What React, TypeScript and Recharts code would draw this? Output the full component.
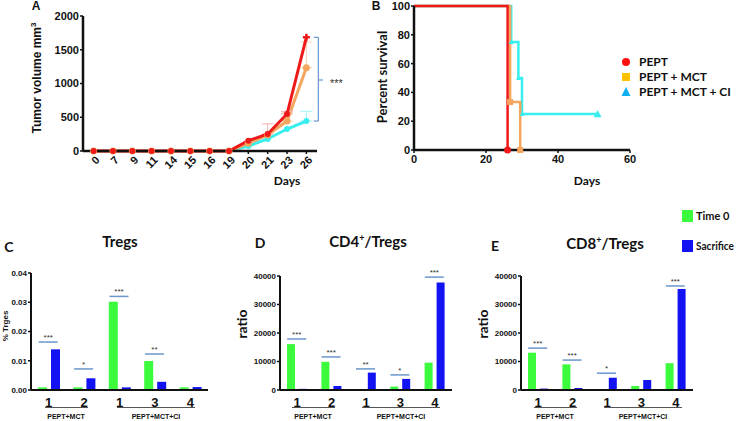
import React from 'react';
import {
  LineChart, Line, XAxis, YAxis, ErrorBar, ReferenceLine, ReferenceDot,
  ComposedChart, Bar,
} from 'recharts';

// ---------- Panel A data ----------
const days = ['0', '7', '9', '11', '14', '15', '16', '19', '20', '21', '23', '26'];
const volPept = [0, 0, 0, 0, 0, 0, 0, 0, 153, 252, 548, 1684];
const volMct = [0, 0, 0, 0, 0, 0, 0, 0, 115, 237, 444, 1234];
const volCi = [0, 0, 0, 0, 0, 0, 0, 0, 74, 178, 326, 444];
const errPept = [null, null, null, null, null, null, null, null, null, 150, 40, null];
const errMct = [null, null, null, null, null, null, null, null, null, null, 120, 380];
const errCi = [null, null, null, null, null, null, null, null, null, null, null, 145];

// ---------- Panel B data ----------
const survNames = ['PEPT', 'PEPT + MCT', 'PEPT + MCT + CI'];
const survPept = [{ d: 0, s: 100 }, { d: 26, s: 0 }];
const survMct = [{ d: 0, s: 100 }, { d: 26.7, s: 33.3 }, { d: 29.5, s: 0 }];
const survCi = [{ d: 0, s: 100 }, { d: 27, s: 75 }, { d: 29, s: 50 }, { d: 30, s: 25 }, { d: 51, s: 25 }];

// ---------- Panels C, D, E data ----------
const barCats = ['1', '2', '1', '3', '4'];
const groupNames = ['PEPT+MCT', 'PEPT+MCT+CI'];
const legendNames = ['Time 0', 'Sacrifice'];

const tregsT0 = [0.0009, 0.0009, 0.0302, 0.0099, 0.0009];
const tregsSac = [0.0139, 0.004, 0.0009, 0.0028, 0.001];
const tregsSig = [0.0164, 0.0072, 0.032, 0.0123, null];
const tregsStars = ['***', '*', '***', '**', null];

const cd4T0 = [16100, 9900, 300, 1200, 9600];
const cd4Sac = [400, 1400, 6100, 3900, 37700];
const cd4Sig = [17900, 11600, 7400, 5300, 39600];
const cd4Stars = ['***', '***', '**', '*', '***'];

const cd8T0 = [13100, 9000, 200, 1400, 9400];
const cd8Sac = [500, 700, 4300, 3500, 35400];
const cd8Sig = [14700, 10500, 5900, null, 36500];
const cd8Stars = ['***', '***', '*', null, '***'];

const RED = '#ee1a1a';
const ORANGE = '#f4a55e';
const CYAN = '#38eeee';
const GREEN = '#3cfa3c';
const BLUE = '#1212f2';
const SIG = '#6b96cc';
const ARIAL = '"Liberation Sans", Arial, sans-serif';
const LATO = 'Lato, "Open Sans", sans-serif';

const dataA = days.map((d, i) => ({
  i,
  pept: volPept[i],
  mct: volMct[i],
  ci: volCi[i],
  ePept: errPept[i] == null ? null : [0, errPept[i]],
  eMct: errMct[i] == null ? null : [0, errMct[i]],
  eCi: errCi[i] == null ? null : [0, errCi[i]],
}));

const RotTick = (props: any) => {
  const { x, y, payload } = props;
  return (
    <g transform={`translate(${x + 4},${y + 2})`}>
      <text
        x={0}
        y={0}
        dy="0.35em"
        transform="rotate(-45)"
        textAnchor="end"
        fontFamily={ARIAL}
        fontWeight="bold"
        fontSize={11}
        fill="#111"
      >
        {days[payload.value]}
      </text>
    </g>
  );
};

const dotA = (color: string, r: number, lastCross?: boolean) => (props: any) => {
  const { cx, cy, index } = props;
  if (cx == null || cy == null) return <g key={index} />;
  if (lastCross && index === days.length - 1) {
    return (
      <g key={index}>
        <path d={`M${cx - 3.5},${cy}L${cx + 3.5},${cy}M${cx},${cy - 3.5}L${cx},${cy + 3.5}`} stroke={color} strokeWidth={2.5} />
      </g>
    );
  }
  return <circle key={index} cx={cx} cy={cy} r={r} fill={color} stroke="none" />;
};

const survDot = (kind: string, color: string) => (props: any) => {
  const { cx, cy, index } = props;
  if (cx == null || cy == null || index === 0) return <g key={index} />;
  if (kind === 'circle') return <circle key={index} cx={cx} cy={cy} r={3.5} fill={color} />;
  if (kind === 'square') return <rect key={index} x={cx - 3} y={cy - 3} width={6} height={6} fill={color} />;
  const s = index === survCi.length - 1 ? 4 : 2.5;
  return <polygon key={index} points={`${cx},${cy - s} ${cx - s},${cy + s * 0.8} ${cx + s},${cy + s * 0.8}`} fill={color} />;
};

const SigDot = (props: any) => {
  const { cx, cy, payload, index } = props;
  if (cx == null || cy == null || payload == null || payload.sig == null || isNaN(cy)) return <g key={index} />;
  return (
    <g key={index}>
      <line x1={cx - 10} x2={cx + 9} y1={cy} y2={cy} stroke={SIG} strokeWidth={1.5} />
      <text x={cx - 0.5} y={cy - 2} textAnchor="middle" fontFamily={ARIAL} fontSize={8} fill="#333">
        {payload.stars}
      </text>
    </g>
  );
};

function BarPanel(props: {
  left: number; width: number; yw: number; ml: number; mr: number; mt: number;
  t0: number[]; sac: number[]; sig: (number | null)[]; stars: (string | null)[];
  max: number; ticks: number[]; fmt: (v: number) => string;
}) {
  const { left, width, yw, ml, mr, mt, t0, sac, sig, stars, max, ticks, fmt } = props;
  const data = barCats.map((c, i) => ({ k: 'g' + i, t0: t0[i], sac: sac[i], sig: sig[i], stars: stars[i] }));
  return (
    <div style={{ position: 'absolute', left, top: 230 }}>
      <ComposedChart width={width} height={191} data={data} margin={{ top: mt, right: mr, left: ml, bottom: 11 }} barCategoryGap={7} barGap={4}>
        <XAxis
          dataKey="k"
          tickFormatter={(v: any, i: number) => barCats[i]}
          tickLine={false}
          axisLine={{ stroke: '#111', strokeWidth: 2 }}
          tick={{ fontFamily: ARIAL, fontWeight: 'bold', fontSize: 13, fill: '#111' }}
          tickMargin={2}
          height={20}
          interval={0}
        />
        <YAxis
          width={yw}
          domain={[0, max]}
          ticks={ticks}
          tickFormatter={fmt}
          axisLine={{ stroke: '#111', strokeWidth: 2 }}
          tickLine={{ stroke: '#111', strokeWidth: 1.5 }}
          tickSize={3}
          tickMargin={1}
          tick={{ fontFamily: ARIAL, fontWeight: 'bold', fontSize: 8, fill: '#111' }}
          interval={0}
        />
        <Bar dataKey="t0" fill={GREEN} isAnimationActive={false} />
        <Bar dataKey="sac" fill={BLUE} isAnimationActive={false} />
        <Line dataKey="sig" stroke="none" dot={SigDot} activeDot={false} isAnimationActive={false} legendType="none" />
      </ComposedChart>
    </div>
  );
}

export default function App() {
  return (
    <div style={{ position: 'absolute', left: 0, top: 0, width: 736, height: 421, background: '#fff', overflow: 'hidden' }}>
      {/* Panel A */}
      <div style={{ position: 'absolute', left: 0, top: 0 }}>
        <LineChart width={370} height={200} data={dataA} margin={{ top: 16, right: 53, left: 33, bottom: 19 }}>
          <XAxis
            dataKey="i"
            type="number"
            domain={[-0.55, 11.55]}
            ticks={days.map((d, i) => i)}
            interval={0}
            tick={RotTick}
            tickLine={{ stroke: '#111', strokeWidth: 1.5 }}
            tickSize={3}
            axisLine={{ stroke: '#111', strokeWidth: 2.5 }}
            height={30}
          />
          <YAxis
            width={50}
            domain={[0, 2000]}
            ticks={[0, 500, 1000, 1500, 2000]}
            interval={0}
            axisLine={{ stroke: '#111', strokeWidth: 2.5 }}
            tickLine={{ stroke: '#111', strokeWidth: 1.5 }}
            tickSize={3}
            tickMargin={1}
            tick={{ fontFamily: ARIAL, fontWeight: 'bold', fontSize: 11, fill: '#111' }}
          />
          <Line dataKey="ci" stroke={CYAN} strokeWidth={3} dot={dotA(CYAN, 3)} isAnimationActive={false}>
            <ErrorBar dataKey="eCi" direction="y" width={6} stroke="#9ef4f4" strokeWidth={1} />
          </Line>
          <Line dataKey="mct" stroke={ORANGE} strokeWidth={3} dot={dotA(ORANGE, 3.5)} isAnimationActive={false}>
            <ErrorBar dataKey="eMct" direction="y" width={6} stroke="#f8cfae" strokeWidth={1} />
          </Line>
          <Line dataKey="pept" stroke={RED} strokeWidth={3} dot={dotA(RED, 3, true)} isAnimationActive={false}>
            <ErrorBar dataKey="ePept" direction="y" width={6} stroke="#f6b0b0" strokeWidth={1} />
          </Line>
          <ReferenceLine segment={[{ x: 11.62, y: 1684 }, { x: 11.62, y: 444 }]} stroke={SIG} strokeWidth={1.2} ifOverflow="visible" />
          <ReferenceLine segment={[{ x: 11.38, y: 1684 }, { x: 11.62, y: 1684 }]} stroke={SIG} strokeWidth={1.2} ifOverflow="visible" />
          <ReferenceLine segment={[{ x: 11.38, y: 444 }, { x: 11.62, y: 444 }]} stroke={SIG} strokeWidth={1.2} ifOverflow="visible" />
          <ReferenceLine segment={[{ x: 11.62, y: 1052 }, { x: 11.86, y: 1052 }]} stroke={SIG} strokeWidth={1.2} ifOverflow="visible" />
          <ReferenceDot x={12.55} y={1052} r={0} fill="none" stroke="none" ifOverflow="visible"
            label={{ value: '***', position: 'center', fontFamily: ARIAL, fontSize: 11, fill: '#333', dy: 3 }} />
        </LineChart>
      </div>

      {/* Panel B */}
      <div style={{ position: 'absolute', left: 360, top: 0 }}>
        <LineChart width={376} height={200} margin={{ top: 6, right: 106, left: 14, bottom: 20 }}>
          <XAxis
            dataKey="d"
            type="number"
            domain={[0, 60]}
            ticks={[0, 20, 40, 60]}
            interval={0}
            axisLine={{ stroke: '#111', strokeWidth: 2.5 }}
            tickLine={{ stroke: '#111', strokeWidth: 1.5 }}
            tickSize={3}
            tick={{ fontFamily: ARIAL, fontWeight: 'bold', fontSize: 11, fill: '#111' }}
            height={30}
            allowDuplicatedCategory={false}
          />
          <YAxis
            width={40}
            dataKey="s"
            domain={[0, 100]}
            ticks={[0, 20, 40, 60, 80, 100]}
            interval={0}
            axisLine={{ stroke: '#111', strokeWidth: 2.5 }}
            tickLine={{ stroke: '#111', strokeWidth: 1.5 }}
            tickSize={3}
            tickMargin={1}
            tick={{ fontFamily: ARIAL, fontWeight: 'bold', fontSize: 11, fill: '#111' }}
          />
          <Line data={survCi} dataKey="s" type="stepAfter" stroke={CYAN} strokeWidth={2.5} dot={survDot('tri', CYAN)} isAnimationActive={false} />
          <Line data={survMct} dataKey="s" type="stepAfter" stroke={ORANGE} strokeWidth={2.5} dot={survDot('square', ORANGE)} isAnimationActive={false} />
          <Line data={survPept} dataKey="s" type="stepAfter" stroke={RED} strokeWidth={2.5} dot={survDot('circle', RED)} isAnimationActive={false} />
        </LineChart>
      </div>

      {/* Panels C, D, E */}
      <BarPanel left={0} width={250} yw={30} ml={1} mr={42} mt={43}
        t0={tregsT0} sac={tregsSac} sig={tregsSig} stars={tregsStars}
        max={0.04} ticks={[0, 0.01, 0.02, 0.03, 0.04]} fmt={(v) => v.toFixed(2)} />
      <BarPanel left={240} width={250} yw={38} ml={2} mr={38} mt={46}
        t0={cd4T0} sac={cd4Sac} sig={cd4Sig} stars={cd4Stars}
        max={40000} ticks={[0, 10000, 20000, 30000, 40000]} fmt={(v) => String(v)} />
      <BarPanel left={480} width={256} yw={38} ml={3} mr={43} mt={46}
        t0={cd8T0} sac={cd8Sac} sig={cd8Sig} stars={cd8Stars}
        max={40000} ticks={[0, 10000, 20000, 30000, 40000]} fmt={(v) => String(v)} />

      {/* Text overlay */}
      <svg width={736} height={421} style={{ position: 'absolute', left: 0, top: 0, pointerEvents: 'none' }}>
        <g fontFamily={ARIAL} fontWeight="bold" fill="#111">
          <text x={36} y={10} fontSize={12} textAnchor="middle">A</text>
          <text x={376} y={10} fontSize={12} textAnchor="middle">B</text>
        </g>
        <text x={41} y={78} transform="rotate(-90 41 78)" textAnchor="middle" fontFamily={ARIAL} fontWeight="bold" fontSize={12} fill="#111">
          Tumor volume mm<tspan fontSize={8} dy={-5}>3</tspan>
        </text>
        <text x={287} y={185} textAnchor="middle" fontFamily={LATO} fontWeight="bold" fontSize={12} fill="#111">Days</text>
        <text x={587} y={185} textAnchor="middle" fontFamily={LATO} fontWeight="bold" fontSize={12} fill="#111">Days</text>
        <text x={387} y={77} transform="rotate(-90 387 77)" textAnchor="middle" fontFamily={LATO} fontWeight="bold" fontSize={13} fill="#111">Percent survival</text>

        {/* survival legend */}
        <circle cx={626} cy={62} r={4} fill="#ff1010" />
        <rect x={622} y={73} width={8} height={8} fill="#ffc000" />
        <polygon points="626,87 621.5,96 630.5,96" fill="#10b0f0" />
        <g fontFamily={LATO} fontWeight="bold" fontSize={12} fill="#111">
          <text x={639} y={66}>{survNames[0]}</text>
          <text x={639} y={81}>{survNames[1]}</text>
          <text x={639} y={96}>{survNames[2]}</text>
        </g>

        {/* bar panel titles & letters */}
        <g fontFamily={LATO} fontWeight="bold" fill="#111">
          <text x={9} y={252} fontSize={14} textAnchor="middle">C</text>
          <text x={260} y={248} fontSize={14} textAnchor="middle">D</text>
          <text x={495} y={251} fontSize={14} textAnchor="middle">E</text>
          <text x={120} y={247} fontSize={15} textAnchor="middle">Tregs</text>
          <text x={368} y={247} fontSize={15} textAnchor="middle">CD4<tspan fontSize={9} dy={-6}>+</tspan><tspan dy={6}>/Tregs</tspan></text>
          <text x={605} y={249} fontSize={15} textAnchor="middle">CD8<tspan fontSize={9} dy={-6}>+</tspan><tspan dy={6}>/Tregs</tspan></text>
          <text x={247} y={324} transform="rotate(-90 247 324)" fontSize={14} textAnchor="middle">ratio</text>
          <text x={488} y={324} transform="rotate(-90 488 324)" fontSize={14} textAnchor="middle">ratio</text>
        </g>
        <text x={8} y={326} transform="rotate(-90 8 326)" textAnchor="middle" fontFamily={ARIAL} fontWeight="bold" fontSize={8} fill="#111">% Trges</text>

        {/* group labels */}
        <g stroke="#555" strokeWidth={1}>
          <line x1={45} x2={88} y1={407.5} y2={407.5} />
          <line x1={117} x2={195} y1={407.5} y2={407.5} />
          <line x1={292} x2={335} y1={407.5} y2={407.5} />
          <line x1={362} x2={440} y1={407.5} y2={407.5} />
          <line x1={534} x2={577} y1={407.5} y2={407.5} />
          <line x1={604} x2={682} y1={407.5} y2={407.5} />
        </g>
        <g fontFamily={ARIAL} fontWeight="bold" fontSize={7} fill="#111" textAnchor="middle">
          <text x={66} y={419}>{groupNames[0]}</text>
          <text x={156} y={419}>{groupNames[1]}</text>
          <text x={313} y={419}>{groupNames[0]}</text>
          <text x={401} y={419}>{groupNames[1]}</text>
          <text x={555} y={419}>{groupNames[0]}</text>
          <text x={643} y={419}>{groupNames[1]}</text>
        </g>

        {/* bar legend */}
        <rect x={682} y={210} width={11} height={12} fill={GREEN} />
        <rect x={682} y={240} width={11} height={12} fill={BLUE} />
        <g fontFamily={LATO} fontWeight="bold" fontSize={11} fill="#111">
          <text x={696} y={220}>{legendNames[0]}</text>
          <text x={696} y={250} textLength={38} lengthAdjust="spacingAndGlyphs">{legendNames[1]}</text>
        </g>
      </svg>
    </div>
  );
}
